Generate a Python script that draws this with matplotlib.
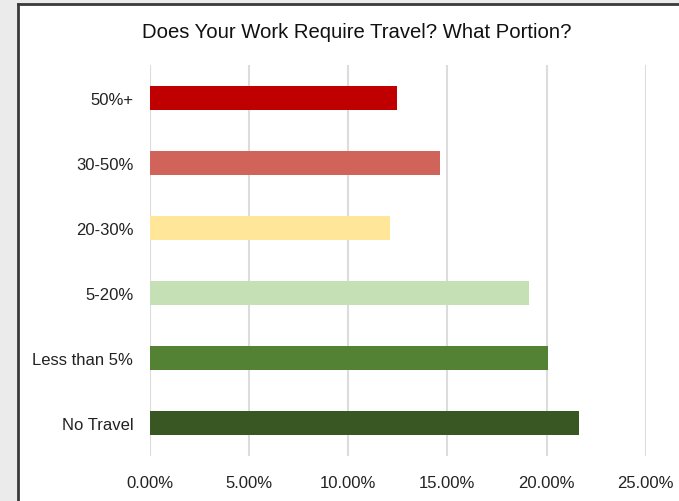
import matplotlib
matplotlib.use('Agg')
import matplotlib.pyplot as plt
from matplotlib.patches import Rectangle
from matplotlib.ticker import FuncFormatter

# Survey answers, listed top to bottom
categories = ['50%+', '30-50%', '20-30%', '5-20%', 'Less than 5%', 'No Travel']
shares = [12.46, 14.64, 12.11, 19.13, 20.08, 21.65]
colors = ['#c00000', '#d0645a', '#ffe699', '#c5e0b4', '#548235', '#385723']
x_ticks = [0, 5, 10, 15, 20, 25]

W, H = 679, 502


def main():
    plt.rcParams['font.family'] = ['Liberation Sans', 'DejaVu Sans']

    fig = plt.figure(figsize=(W / 100, H / 100), dpi=100)
    fig.patch.set_facecolor('#ebebeb')

    # white chart box with a dark frame on the top and left
    box = Rectangle((18 / W, 0), 1, 1 - 5 / H, transform=fig.transFigure,
                    facecolor='white', edgecolor='none', zorder=-10)
    fig.add_artist(box)
    fig.add_artist(plt.Line2D([18 / W, 18 / W], [0, 1 - 5 / H],
                              transform=fig.transFigure, color='#3a3a3a', lw=2,
                              zorder=-5))
    fig.add_artist(plt.Line2D([18 / W, 1], [1 - 5 / H, 1 - 5 / H],
                              transform=fig.transFigure, color='#3a3a3a', lw=2,
                              zorder=-5))

    ax = fig.add_axes([150 / W, 1 - 457 / H, (645.7 - 150) / W, (457 - 66) / H])
    ax.set_facecolor('none')
    ax.set_zorder(1)

    pos = list(range(len(categories)))[::-1]
    ax.barh(pos, shares, height=0.37, color=colors, zorder=3)

    ax.set_xlim(0, 25)
    ax.set_ylim(-0.5, len(categories) - 0.5)
    ax.set_xticks(x_ticks)
    ax.xaxis.set_major_formatter(FuncFormatter(lambda v, p: f'{v:.2f}%'))
    ax.set_yticks(pos)
    ax.set_yticklabels(categories)

    ax.grid(axis='x', color='#dcdcdc', lw=1.5, zorder=0)
    for s in ax.spines.values():
        s.set_visible(False)
    ax.tick_params(axis='both', length=0, labelsize=12, labelcolor='#222222')
    ax.tick_params(axis='y', pad=12)
    ax.tick_params(axis='x', pad=14)

    fig.text((142 + 571) / 2 / W, 1 - 33 / H,
             'Does Your Work Require Travel? What Portion?',
             ha='center', va='center', fontsize=14.6, color='#111111')

    fig.savefig('out.png', dpi=100, facecolor=fig.get_facecolor())


if __name__ == '__main__':
    main()
